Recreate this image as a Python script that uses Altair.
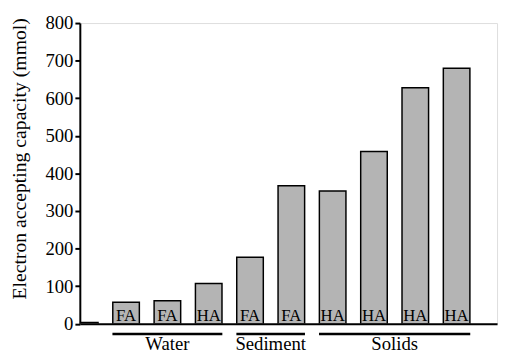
import altair as alt
import pandas as pd

positions = [0, 1, 2, 3, 4, 5, 6, 7, 8, 9]
bar_labels = ["", "FA", "FA", "HA", "FA", "FA", "HA", "HA", "HA", "HA"]
capacity = [3, 57, 61, 107, 177, 367, 353, 458, 628, 680]

groups = ["Water", "Sediment", "Solids"]
group_first = [1, 4, 6]
group_last = [3, 5, 9]

y_ticks = [0, 100, 200, 300, 400, 500, 600, 700, 800]

bars = pd.DataFrame({"pos": positions, "label": bar_labels, "value": capacity})
grp = pd.DataFrame({"group": groups, "first": group_first, "last": group_last})

W, H = 424, 305.5
SERIF = "Liberation Serif"

xscale = alt.Scale(domain=[0, 9.86], nice=False, zero=False)
yscale = alt.Scale(domain=[0, 800], nice=False)

xaxis = alt.Axis(labels=False, ticks=False, title=None, grid=False,
                 domainColor="black", domainWidth=2)
yaxis = alt.Axis(values=y_ticks, title="Electron accepting capacity (mmol)",
                 grid=False, domainColor="black", domainWidth=2,
                 tickColor="black", tickWidth=2, tickSize=5,
                 labelFont=SERIF, labelFontSize=19, labelColor="black",
                 labelPadding=2, labelOverlap=False,
                 titleFont=SERIF, titleFontSize=20, titleFontWeight="normal",
                 titleColor="black", titlePadding=16, titleY=137.5)

base = alt.Chart(bars)

bar_layer = base.mark_bar(
    color="#b4b4b4", stroke="black", strokeWidth=1.5, size=27, clip=True
).encode(
    x=alt.X("pos:Q", scale=xscale, axis=xaxis, title=None),
    y=alt.Y("value:Q", scale=yscale, axis=yaxis,
            title="Electron accepting capacity (mmol)"),
)

text_layer = base.transform_filter("datum.label != ''").mark_text(
    font=SERIF, fontSize=17, color="black", baseline="alphabetic", dy=-3
).encode(
    x=alt.X("pos:Q", scale=xscale, axis=xaxis, title=None),
    y=alt.Y(datum=0, scale=yscale, axis=yaxis,
            title="Electron accepting capacity (mmol)"),
    text="label:N",
)

gbase = alt.Chart(grp).transform_calculate(
    x1="datum.first - 0.33", x2="datum.last + 0.33",
    mid="(datum.first + datum.last) / 2"
)

rule_layer = gbase.mark_rule(color="black", strokeWidth=2.5).encode(
    x=alt.X("x1:Q", scale=xscale, axis=xaxis, title=None),
    x2="x2:Q",
    y=alt.value(H + 10.5),
)

gtext_layer = gbase.mark_text(
    font=SERIF, fontSize=19, color="black", baseline="alphabetic"
).encode(
    x=alt.X("mid:Q", scale=xscale, axis=xaxis, title=None),
    y=alt.value(H + 27),
    text="group:N",
)

chart = alt.layer(bar_layer, text_layer, rule_layer, gtext_layer).properties(
    width=W, height=H,
    autosize=alt.AutoSizeParams(type="none"),
    padding={"left": 73, "top": 12.5, "right": 4, "bottom": 28},
).configure_view(strokeWidth=0).configure(background="white")

chart.save("out.html", embed_options={"renderer": "svg", "actions": False})
